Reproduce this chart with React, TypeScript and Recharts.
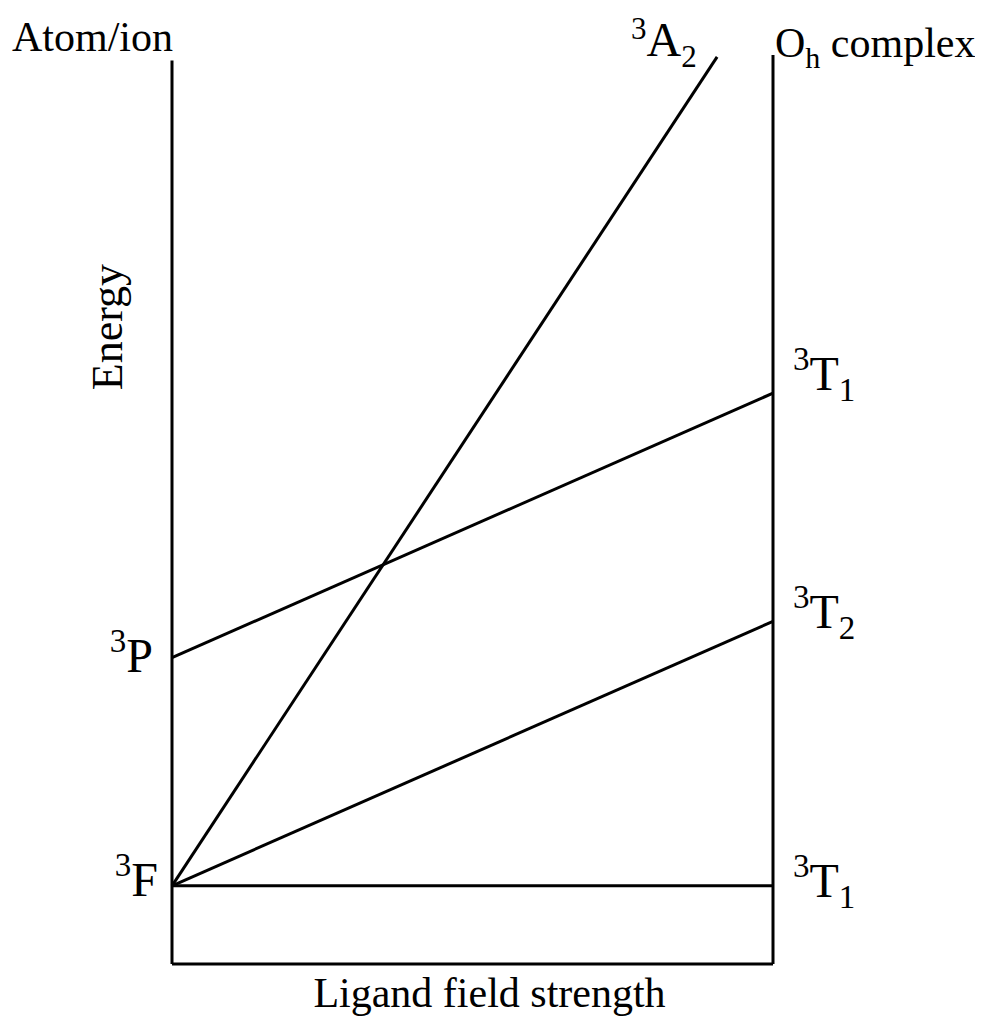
import React from 'react'
import { LineChart, Line, XAxis, YAxis, ReferenceLine, ReferenceDot } from 'recharts'

// ligand field strength goes from the free atom/ion (0) to the Oh complex (1)
const fieldEnds = [0, 1]
const groundLevel = [8.6, 8.6] // 3F -> 3T1
const t2Level = [8.6, 37.7] // 3F -> 3T2
const pLevel = [33.7, 62.8] // 3P -> 3T1
const a2Field = [0, 0.907]
const a2Level = [8.6, 99.8] // 3F -> 3A2
const frameTop = [99.4, 100] // left / right vertical line tops

const toPoints = (xs: number[], ys: number[]) => xs.map((x, i) => ({ x, e: ys[i] }))

const series = [
  { key: 'ground', data: toPoints(fieldEnds, groundLevel) },
  { key: 't2', data: toPoints(fieldEnds, t2Level) },
  { key: 'p', data: toPoints(fieldEnds, pLevel) },
  { key: 'a2', data: toPoints(a2Field, a2Level) },
]

const FONT = '"Liberation Serif", "Times New Roman", serif'

type StateLabelProps = {
  viewBox?: any
  main: string
  sup?: string
  sub?: string
  rest?: string
  dx: number
  dy: number
  anchor?: 'start' | 'end'
  size?: number
  small?: number
  supShift?: number
}

const StateLabel = (props: StateLabelProps) => {
  const { viewBox, main, sup, sub, rest, dx, dy, anchor = 'start', size = 48, small = 33, supShift = 20 } = props
  if (!viewBox) return null
  const cx = viewBox.x + viewBox.width / 2
  const cy = viewBox.y + viewBox.height / 2
  return (
    <text x={cx + dx} y={cy + dy} textAnchor={anchor} fontFamily={FONT} fill="#000">
      {sup && (
        <tspan fontSize={small} dy={-supShift}>
          {sup}
        </tspan>
      )}
      <tspan fontSize={size} dy={sup ? supShift : 0}>
        {main}
      </tspan>
      {sub && (
        <tspan fontSize={small} dy={11}>
          {sub}
        </tspan>
      )}
      {rest && (
        <tspan fontSize={size} dy={sub ? -11 : 0}>
          {rest}
        </tspan>
      )}
    </text>
  )
}

const EnergyLabel = (props: any) => {
  const vb = props.viewBox
  if (!vb) return null
  const x = vb.x + vb.width - 50
  const y = vb.y + 272
  return (
    <text x={x} y={y} transform={`rotate(-90, ${x}, ${y})`} textAnchor="middle" fontFamily={FONT} fontSize={44} fill="#000">
      Energy
    </text>
  )
}

const FieldLabel = (props: any) => {
  const vb = props.viewBox
  if (!vb) return null
  return (
    <text x={vb.x + vb.width / 2 + 17} y={vb.y + 43} textAnchor="middle" fontFamily={FONT} fontSize={42} fill="#000">
      Ligand field strength
    </text>
  )
}

const App = () => {
  return (
    <LineChart width={975} height={1013} margin={{ top: 47, right: 210, bottom: 0, left: 0 }}>
      <XAxis
        dataKey="x"
        type="number"
        domain={[0, 1]}
        tick={false}
        tickLine={false}
        axisLine={{ stroke: '#000', strokeWidth: 3 }}
        height={57}
        label={<FieldLabel />}
      />
      <YAxis
        dataKey="e"
        type="number"
        domain={[0, 100]}
        width={164}
        tick={false}
        tickLine={false}
        axisLine={false}
        label={<EnergyLabel />}
      />
      <ReferenceLine
        segment={[
          { x: 0, y: 0 },
          { x: 0, y: frameTop[0] },
        ]}
        stroke="#000"
        strokeWidth={3}
      />
      <ReferenceLine x={1} stroke="#000" strokeWidth={3} />
      {series.map((s) => (
        <Line
          key={s.key}
          data={s.data}
          dataKey="e"
          type="linear"
          stroke="#000"
          strokeWidth={3}
          dot={false}
          activeDot={false}
          isAnimationActive={false}
        />
      ))}
      <ReferenceDot x={0} y={frameTop[0]} r={1} fill="none" stroke="none"
        label={<StateLabel main="Atom/ion" dx={1} dy={-9} anchor="end" size={42} />} />
      <ReferenceDot x={1} y={frameTop[1]} r={1} fill="none" stroke="none"
        label={<StateLabel main="O" sub="h" rest=" complex" dx={2} dy={2} size={42} small={30} />} />
      <ReferenceDot x={a2Field[1]} y={a2Level[1]} r={1} fill="none" stroke="none"
        label={<StateLabel sup="3" main="A" sub="2" dx={-86} dy={-1} small={31} supShift={17} />} />
      <ReferenceDot x={0} y={pLevel[0]} r={1} fill="none" stroke="none"
        label={<StateLabel sup="3" main="P" dx={-19} dy={14} anchor="end" />} />
      <ReferenceDot x={0} y={groundLevel[0]} r={1} fill="none" stroke="none"
        label={<StateLabel sup="3" main="F" dx={-14} dy={10} anchor="end" />} />
      <ReferenceDot x={1} y={pLevel[1]} r={1} fill="none" stroke="none"
        label={<StateLabel sup="3" main="T" sub="1" dx={20} dy={-3} />} />
      <ReferenceDot x={1} y={t2Level[1]} r={1} fill="none" stroke="none"
        label={<StateLabel sup="3" main="T" sub="2" dx={20} dy={7} />} />
      <ReferenceDot x={1} y={groundLevel[1]} r={1} fill="none" stroke="none"
        label={<StateLabel sup="3" main="T" sub="1" dx={20} dy={11} />} />
    </LineChart>
  )
}

export default App
